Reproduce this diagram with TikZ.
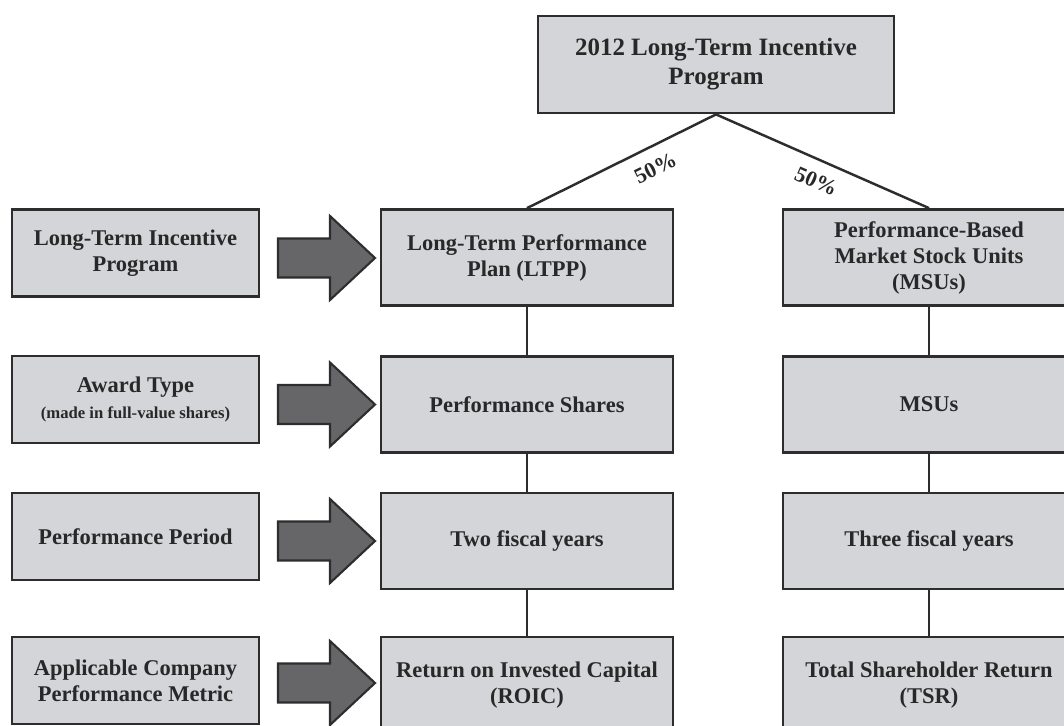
\documentclass[tikz,border=0pt]{standalone}
\usepackage{fontspec}
\setmainfont{Liberation Serif}
\usepackage{tikz}

\definecolor{boxgray}{RGB}{212,213,216}
\definecolor{edgegray}{RGB}{45,45,45}
\definecolor{arrowgray}{RGB}{102,102,104}
\definecolor{textgray}{RGB}{40,40,40}

\begin{document}
\begin{tikzpicture}[x=0.02cm,y=-0.02cm,
  box/.style={draw=edgegray,line width=1.6pt,fill=boxgray,align=center,text=textgray,inner sep=0pt,
    font=\bfseries\fontsize{12.8}{14.8}\selectfont},
  midbox/.style={box,minimum width=5.84cm,minimum height=1.92cm},
  leftbox/.style={box,minimum width=4.94cm,minimum height=1.74cm},
  link/.style={draw=edgegray,line width=1.4pt},
  bigarrow/.style={draw=edgegray,line width=1.2pt,fill=arrowgray,line join=miter},
  pct/.style={font=\bfseries\fontsize{12.5}{14}\selectfont,text=textgray,inner sep=1pt}]

\useasboundingbox (0,0) rectangle (1064,726);
\clip (0,0) rectangle (1064,726);

\node[box,minimum width=7.12cm,minimum height=1.94cm,font=\bfseries\fontsize{14.2}{16.5}\selectfont] (top) at (716,64.5) {2012 Long-Term Incentive\\Program};

\node[leftbox] (lprog) at (135.5,253) {Long-Term Incentive\\Program};
\node[leftbox] (award) at (135.5,399.5) {Award Type\\{\fontsize{9.5}{11}\selectfont (made in full-value shares)}};
\node[leftbox] (lperiod) at (135.5,536.5) {Performance Period};
\node[leftbox] (metric) at (135.5,680.5) {Applicable Company\\Performance Metric};

\node[midbox] (ltpp) at (527,257.5) {Long-Term Performance\\Plan (LTPP)};
\node[midbox] (shares) at (527,404.5) {Performance Shares};
\node[midbox] (two) at (527,541) {Two fiscal years};
\node[midbox] (roic) at (527,685) {Return on Invested Capital\\(ROIC)};

\node[midbox] (msu) at (929,257.5) {Performance-Based\\Market Stock Units\\(MSUs)};
\node[midbox] (msus) at (929,404.5) {MSUs};
\node[midbox] (three) at (929,541) {Three fiscal years};
\node[midbox] (tsr) at (929,685) {Total Shareholder Return\\(TSR)};

\draw[link] (ltpp.north) -- node[pct,sloped,below=6pt,pos=0.63] (pleft) {50\%} (top.south);
\draw[link] (top.south) -- node[pct,sloped,below=6pt,pos=0.51] (pright) {50\%} (msu.north);

\draw[link] (ltpp.south) -- (shares.north);
\draw[link] (shares.south) -- (two.north);
\draw[link] (two.south) -- (roic.north);
\draw[link] (msu.south) -- (msus.north);
\draw[link] (msus.south) -- (three.north);
\draw[link] (three.south) -- (tsr.north);

\draw[bigarrow] (278,238.5) -- (330,238.5) -- (330,216) -- (375,258) -- (330,300) -- (330,277.5) -- (278,277.5) -- cycle;
\draw[bigarrow] (278,385) -- (330,385) -- (330,362.5) -- (375,404.5) -- (330,446.5) -- (330,424) -- (278,424) -- cycle;
\draw[bigarrow] (278,521.5) -- (330,521.5) -- (330,499) -- (375,541) -- (330,583) -- (330,560.5) -- (278,560.5) -- cycle;
\draw[bigarrow] (278,663.5) -- (330,663.5) -- (330,641) -- (375,683) -- (330,725) -- (330,702.5) -- (278,702.5) -- cycle;

\end{tikzpicture}
\end{document}
